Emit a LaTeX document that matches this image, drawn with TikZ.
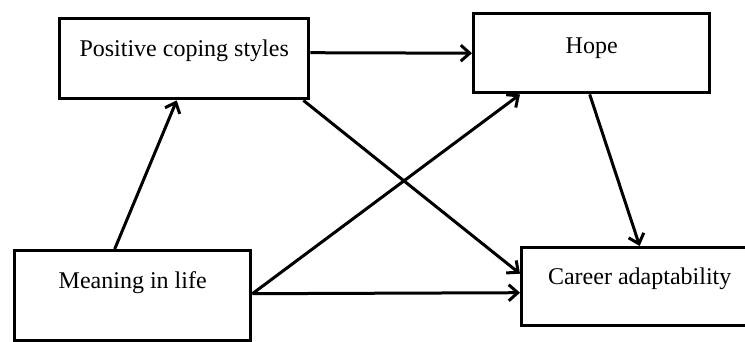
\documentclass[tikz,border=0pt]{standalone}
\usepackage{fontspec}
\setmainfont{Liberation Serif}
\usetikzlibrary{arrows.meta}
\tikzset{
  box/.style={draw, line width=3.4pt, inner sep=0pt, font=\fontsize{24}{24}\selectfont, anchor=north west},
  arr/.style={line width=3pt, -{Straight Barb[length=9pt,width=16pt]}},
}
\begin{document}
\begin{tikzpicture}[x=1pt,y=-1pt]
\useasboundingbox (0,0) rectangle (745,341);
\fill[white] (0,0) rectangle (745,341);
\node[box, minimum width=249pt, text height=38pt, text depth=42pt] (pos) at (58,17) {Positive coping styles};
\node[box, minimum width=236pt, text height=40pt, text depth=39pt] (hope) at (472,12) {Hope};
\node[box, minimum width=236pt, text height=38pt, text depth=52pt] (mean) at (13,249) {Meaning in life};
\node[box, minimum width=236pt, text height=37pt, text depth=41pt] (car) at (520,246) {Career adaptability};
\draw[arr] ([xshift=-18pt]mean.north) -- ([xshift=-7.5pt]pos.south);
\draw[arr] ([yshift=6pt]pos.east) -- (hope.west);
\draw[arr] ([xshift=-7pt]pos.south east) -- ([yshift=13pt]car.west);
\draw[arr] ([yshift=2pt]mean.east) -- ([xshift=48pt]hope.south west);
\draw[arr] ([yshift=2pt]mean.east) -- ([yshift=-6pt]car.west);
\draw[arr] ([xshift=-2pt]hope.south) -- (car.north);
\end{tikzpicture}
\end{document}
